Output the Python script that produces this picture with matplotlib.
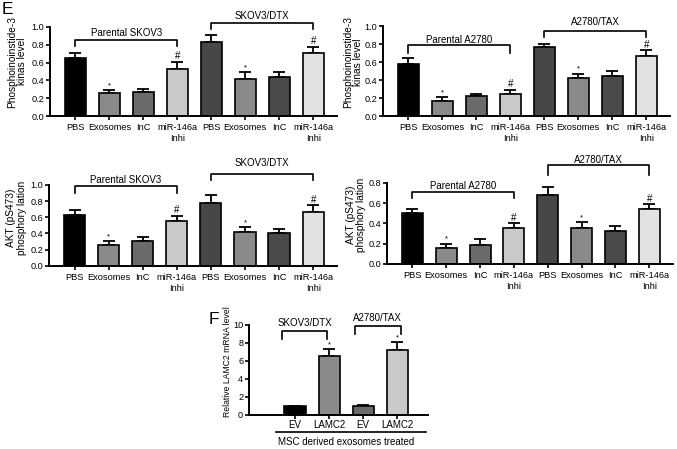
import matplotlib
matplotlib.use("Agg")
import matplotlib.pyplot as plt
import numpy as np

plt.rcParams['font.family'] = ['Liberation Sans', 'DejaVu Sans']

cats = ["PBS", "Exosomes", "InC", "miR-146a\nInhi", "PBS", "Exosomes", "InC", "miR-146a\nInhi"]
colors8 = ["#000000", "#8a8a8a", "#6b6b6b", "#c9c9c9", "#474747", "#8a8a8a", "#4a4a4a", "#e2e2e2"]

pi3k_skov3 = [0.65, 0.26, 0.27, 0.53, 0.83, 0.42, 0.44, 0.71]
pi3k_skov3_err = [0.06, 0.03, 0.03, 0.08, 0.08, 0.07, 0.06, 0.07]
pi3k_a2780 = [0.58, 0.17, 0.22, 0.24, 0.77, 0.42, 0.44, 0.67]
pi3k_a2780_err = [0.06, 0.04, 0.03, 0.05, 0.03, 0.05, 0.06, 0.06]
akt_skov3 = [0.63, 0.26, 0.30, 0.55, 0.78, 0.42, 0.40, 0.67]
akt_skov3_err = [0.06, 0.04, 0.05, 0.07, 0.09, 0.06, 0.05, 0.08]
akt_a2780 = [0.50, 0.16, 0.19, 0.35, 0.68, 0.35, 0.32, 0.54]
akt_a2780_err = [0.04, 0.04, 0.05, 0.05, 0.08, 0.06, 0.05, 0.05]
marks = ["", "*", "", "#", "", "*", "", "#"]

f_cats = ["EV", "LAMC2", "EV", "LAMC2"]
f_vals = [0.95, 6.6, 0.95, 7.2]
f_err = [0.05, 0.7, 0.12, 0.9]
f_colors = ["#000000", "#8a8a8a", "#6b6b6b", "#c9c9c9"]
f_marks = ["", "*", "", "*"]

W, H = 677, 449
fig = plt.figure(figsize=(W/100, H/100), dpi=100)

XT = 6.7   # x tick label size
YT = 6.6   # y tick label size
BL = 7.0   # bracket label size
YL = 7.3   # y label size

def axes_px(l, r, t, b):
    return fig.add_axes([l/W, 1-b/H, (r-l)/W, (b-t)/H])

def style(ax, xsize=XT, ysize=YT, xpad=2):
    for s in ['top', 'right']:
        ax.spines[s].set_visible(False)
    for s in ['left', 'bottom']:
        ax.spines[s].set_linewidth(1.4)
    ax.tick_params(direction='out', length=3.2, width=1.2)
    ax.tick_params(axis='x', labelsize=xsize, pad=xpad)
    ax.tick_params(axis='y', labelsize=ysize, pad=1.0)

def bracket(ax, x0, x1, ytop, yleg, label, ylab, size=BL):
    ax.plot([x0, x0, x1, x1], [yleg, ytop, ytop, yleg], color='black', lw=1.2, clip_on=False)
    ax.text((x0+x1)/2, ylab, label, ha='center', va='center', fontsize=size, clip_on=False)

def draw_panel(ax, vals, errs, ylim, yticks, ylabel, br, scale, labxy):
    x = np.arange(len(vals))
    ax.bar(x, vals, width=0.62, color=colors8, edgecolor='black', linewidth=1.2, zorder=2)
    ax.errorbar(x, vals, yerr=[np.zeros(len(vals)), errs], fmt='none', ecolor='black',
                elinewidth=1.3, capsize=4, capthick=1.3, zorder=1)
    for xi, v, e, m in zip(x, vals, errs, marks):
        if m == "*":
            ax.text(xi, v+e+0.012*scale, m, ha='center', va='bottom', fontsize=5.5)
        elif m == "#":
            ax.text(xi, v+e+0.008*scale, m, ha='center', va='bottom', fontsize=7)
    ax.set_xlim(-0.75, 7.7)
    ax.set_ylim(*ylim)
    ax.set_yticks(yticks)
    ax.set_yticklabels([f"{t:.1f}" for t in yticks])
    ax.set_xticks(x)
    ax.set_xticklabels(cats, linespacing=1.25)
    ax.set_ylabel(ylabel, fontsize=YL, linespacing=1.05)
    ax.yaxis.set_label_coords(*labxy)
    style(ax)
    for b in br:
        bracket(ax, *b)

ax1 = axes_px(50, 337, 27, 116)
draw_panel(ax1, pi3k_skov3, pi3k_skov3_err, (0, 1.0), np.arange(0, 1.01, 0.2),
           "Phosphoinoinstide-3\nkinas level",
           [(0, 3, 0.854, 0.787, "Parental SKOV3", 0.936), (4, 7, 1.048, 0.974, "SKOV3/DTX", 1.12)], 1,
           (-0.08, 0.61))

ax2 = axes_px(383, 670, 26, 116)
draw_panel(ax2, pi3k_a2780, pi3k_a2780_err, (0, 1.0), np.arange(0, 1.01, 0.2),
           "Phosphoinoinstide-3\nkinas level",
           [(0, 3, 0.786, 0.70, "Parental A2780", 0.85), (4, 7, 0.948, 0.874, "A2780/TAX", 1.04)], 1,
           (-0.068, 0.60))

ax3 = axes_px(49, 337, 185, 265.7)
draw_panel(ax3, akt_skov3, akt_skov3_err, (0, 1.0), np.arange(0, 1.01, 0.2),
           "AKT (pS473)\nphosphory lation",
           [(0, 3, 0.988, 0.905, "Parental SKOV3", 1.065), (4, 7, 1.136, 1.06, "SKOV3/DTX", 1.27)], 1,
           (-0.078, 0.59))

ax4 = axes_px(387, 673, 183, 263.7)
draw_panel(ax4, akt_a2780, akt_a2780_err, (0, 0.8), np.arange(0, 0.81, 0.2),
           "AKT (pS473)\nphosphory lation",
           [(0, 3, 0.714, 0.648, "Parental A2780", 0.77), (4, 7, 0.978, 0.88, "A2780/TAX", 1.03)], 0.8,
           (-0.072, 0.60))

# Panel F
ax5 = axes_px(249, 428, 325, 415)
xf = np.arange(len(f_vals))
ax5.bar(xf, f_vals, width=0.62, color=f_colors, edgecolor='black', linewidth=1.2, zorder=2)
ax5.errorbar(xf, f_vals, yerr=[np.zeros(len(f_vals)), f_err], fmt='none', ecolor='black',
             elinewidth=1.3, capsize=4, capthick=1.3, zorder=1)
for xi, v, e, m in zip(xf, f_vals, f_err, f_marks):
    if m:
        ax5.text(xi, v+e+0.12, m, ha='center', va='bottom', fontsize=5.5)
ax5.set_xlim(-1.35, 3.9)
ax5.set_ylim(0, 10)
ax5.set_yticks([0, 2, 4, 6, 8, 10])
ax5.set_xticks(xf)
ax5.set_xticklabels(f_cats)
ax5.set_ylabel("Relative LAMC2 mRNA level", fontsize=6.2)
ax5.yaxis.set_label_coords(-0.095, 0.59)
style(ax5, xsize=7, ysize=6.6, xpad=0.5)
bracket(ax5, -0.37, 0.93, 9.37, 8.4, "SKOV3/DTX", 10.2, 7)
bracket(ax5, 1.76, 3.1, 9.9, 9.0, "A2780/TAX", 10.8, 7)
ax5.plot([-0.57, 3.83], [-1.85, -1.85], color='black', lw=1.2, clip_on=False)
ax5.text(1.5, -3.0, "MSC derived exosomes treated", ha='center', va='center', fontsize=7, clip_on=False)

fig.text(2/W, 1-9/H, "E", fontsize=12.5, ha='left', va='center')
fig.text(209/W, 1-319/H, "F", fontsize=12.5, ha='left', va='center')

fig.savefig("out.png", dpi=100)
